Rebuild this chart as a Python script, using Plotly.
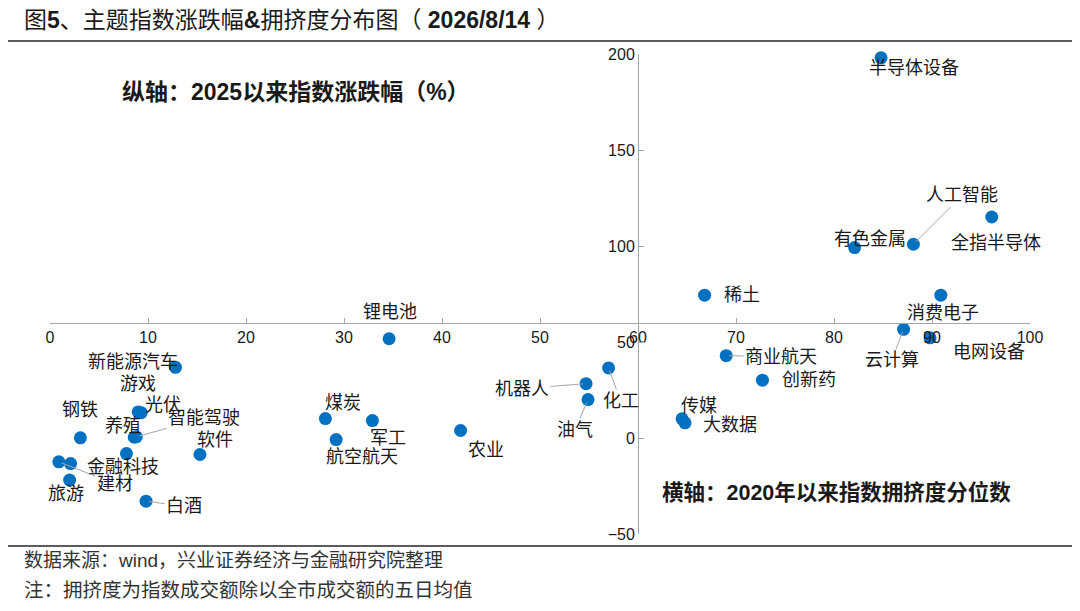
import plotly.graph_objects as go

# 主题指数：2020年以来拥挤度分位数（横轴） / 2025以来涨跌幅%（纵轴）
names = ['半导体设备', '全指半导体', '人工智能', '有色金属', '稀土', '消费电子',
         '云计算', '电网设备', '锂电池', '新能源汽车', '商业航天', '化工', '机器人',
         '创新药', '油气', '传媒', '大数据', '游戏', '光伏', '养殖', '智能驾驶',
         '钢铁', '煤炭', '军工', '航空航天', '农业', '软件', '金融科技', '建材',
         '', '旅游', '白酒']
crowd = [84.8, 96.1, 88.1, 82.1, 66.8, 90.9,
         87.1, 89.8, 34.6, 12.8, 69.0, 57.0, 54.7,
         72.7, 54.9, 64.5, 64.8, 9.0, 9.3, 8.6, 8.8,
         3.1, 28.1, 32.9, 29.2, 41.9, 15.3, 7.8, 0.9,
         2.1, 2.0, 9.8]
ret = [198.0, 115.1, 100.9, 99.2, 74.4, 74.4,
       56.6, 52.2, 51.7, 36.8, 42.9, 36.5, 28.3,
       30.1, 20.0, 10.0, 7.9, 13.6, 13.2, 0.4, 0.6,
       0.1, 10.1, 9.1, -0.8, 3.9, -8.6, -8.1, -12.4,
       -13.3, -21.9, -32.9]

xticks = [0, 10, 20, 30, 40, 50, 60, 70, 80, 90, 100]
yticks = [-50, 0, 50, 100, 150, 200]

# 标签偏移（像素，dy 向下为正），第三项表示是否画引导线
label_pos = {
    '半导体设备': (33, 10, False), '全指半导体': (4, 26, False),
    '人工智能': (49, -49, True), '有色金属': (15, -9, False),
    '稀土': (37, 0, False), '消费电子': (2, 18, False),
    '云计算': (-12, 31, True), '电网设备': (59, 14, False),
    '锂电池': (1, -27, False), '新能源汽车': (-42, -5, False),
    '商业航天': (55, 1, True), '化工': (12, 33, True),
    '机器人': (-64, 5, True), '创新药': (47, 0, False),
    '油气': (-13, 30, True), '传媒': (17, -13, False),
    '大数据': (45, 2, False), '游戏': (0, -28, False),
    '光伏': (22, -8, False), '养殖': (-11, -12, False),
    '智能驾驶': (68, -19, True), '钢铁': (0, -28, False),
    '煤炭': (18, -16, False), '军工': (16, 17, False),
    '航空航天': (26, 17, False), '农业': (25, 19, False),
    '软件': (15, -15, False), '金融科技': (-3, 13, False),
    '建材': (56, 22, True), '旅游': (-4, 14, False),
    '白酒': (38, 5, True),
}

font_main = 'Liberation Sans, Arial, Noto Sans CJK SC'
grey = '#a6a6a6'

fig = go.Figure()
fig.add_trace(go.Scatter(
    x=crowd, y=ret, mode='markers', text=names, cliponaxis=False,
    marker=dict(color='#0070C0', size=13, line=dict(width=0)),
    hoverinfo='text+x+y', showlegend=False,
))

annotations = []
for n, xv, yv in zip(names, crowd, ret):
    if not n:
        continue
    dx, dy, leader = label_pos[n]
    if leader:
        annotations.append(dict(
            x=xv, y=yv, xref='x', yref='y', text=n, showarrow=True,
            ax=dx, ay=dy, axref='pixel', ayref='pixel', arrowhead=0,
            arrowwidth=1, arrowcolor=grey, standoff=3,
            font=dict(size=18, color='#1a1a1a', family=font_main)))
    else:
        annotations.append(dict(
            x=xv, y=yv, xref='x', yref='y', text=n, showarrow=False,
            xshift=dx, yshift=-dy,
            font=dict(size=18, color='#1a1a1a', family=font_main)))

# 标题、轴说明与注释
annotations += [
    dict(x=-0.0286, y=1.071, xref='paper', yref='paper', xanchor='left', yanchor='middle',
         text='图<b>5</b>、主题指数涨跌幅<b>&</b>拥挤度分布图（ <b>2026/8/14</b> ）',
         showarrow=False, font=dict(size=23, color='#1a1a1a', family=font_main)),
    dict(x=0.0714, y=0.921, xref='paper', yref='paper', xanchor='left', yanchor='middle',
         text='<b>纵轴：2025以来指数涨跌幅（%）</b>',
         showarrow=False, font=dict(size=23, color='#1a1a1a', family=font_main)),
    dict(x=0.622, y=0.0875, xref='paper', yref='paper', xanchor='left', yanchor='middle',
         text='<b>横轴：2020年以来指数拥挤度分位数</b>',
         showarrow=False, font=dict(size=21.5, color='#1a1a1a', family=font_main)),
    dict(x=-0.0286, y=-0.056, xref='paper', yref='paper', xanchor='left', yanchor='middle',
         text='数据来源：wind，兴业证券经济与金融研究院整理',
         showarrow=False, font=dict(size=19, color='#333333', family=font_main)),
    dict(x=-0.0286, y=-0.117, xref='paper', yref='paper', xanchor='left', yanchor='middle',
         text='注：拥挤度为指数成交额除以全市成交额的五日均值',
         showarrow=False, font=dict(size=19.5, color='#333333', family=font_main)),
]

shapes = [
    dict(type='line', xref='paper', yref='paper', x0=-0.043, x1=1.043, y0=1.027, y1=1.027,
         line=dict(color='#262626', width=1.5)),
    dict(type='line', xref='paper', yref='paper', x0=-0.043, x1=1.043, y0=-0.025, y1=-0.025,
         line=dict(color='#262626', width=1.5)),
]

# 页面自带 8px 边距，图幅相应缩小
fig.update_layout(
    width=1064, height=595,
    margin=dict(l=42, r=42, t=46, b=69),
    paper_bgcolor='white', plot_bgcolor='white',
    annotations=annotations, shapes=shapes,
    xaxis=dict(range=[0, 100], tickvals=xticks, showgrid=False, zeroline=False,
               showline=True, linecolor=grey, linewidth=1,
               ticks='inside', ticklen=5, tickcolor=grey,
               anchor='free', position=(60 - (-50)) / 250.0,
               tickfont=dict(size=16, color='#1a1a1a', family=font_main)),
    yaxis=dict(range=[-50, 200], tickvals=yticks, showgrid=False, zeroline=False,
               showline=True, linecolor=grey, linewidth=1,
               ticks='inside', ticklen=5, tickcolor=grey,
               anchor='free', position=0.6,
               tickfont=dict(size=16, color='#1a1a1a', family=font_main)),
)

fig.write_html("out.html")
